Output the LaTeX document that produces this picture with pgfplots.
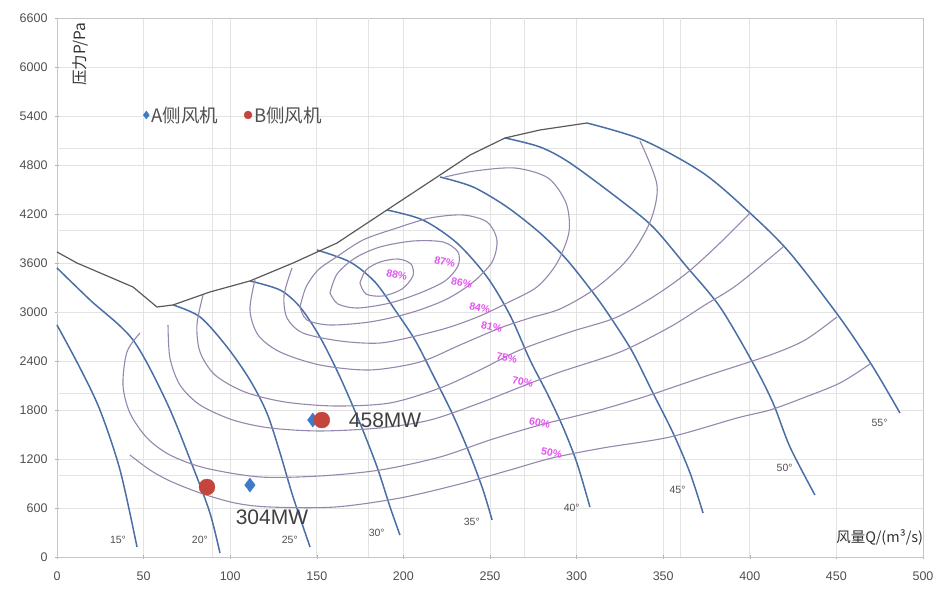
\documentclass[border=0pt]{standalone}
\usepackage{fontspec}
\setmainfont{Liberation Sans}
\newfontfamily\cjk{Noto Sans CJK SC}
\usepackage{pgfplots}
\pgfplotsset{compat=1.18}
\definecolor{blade}{HTML}{4A6FA5}
\definecolor{eff}{HTML}{9687AE}
\definecolor{surge}{HTML}{5A5A5A}
\definecolor{effl}{HTML}{E154EE}
\definecolor{ptA}{HTML}{3D7BC8}
\definecolor{ptB}{HTML}{C4453B}
\definecolor{gridc}{HTML}{E3E3E3}
\definecolor{tickc}{HTML}{505050}
\tikzset{bl/.style={font=\fontsize{10.5bp}{12bp}\selectfont, text=tickc},
  el/.style={font=\bfseries\fontsize{10.5bp}{12bp}\selectfont, text=effl, rotate=-12}}
\begin{document}
\begin{tikzpicture}
\begin{axis}[
  scale only axis, width=866bp, height=539bp,
  xmin=0, xmax=500, ymin=0, ymax=6600,
  xtick={0,50,...,500}, ytick={0,600,...,6600},
  grid=major, grid style={gridc, line width=0.8bp},
  extra x ticks={90,180,270,360,450}, extra y ticks={1000,2000,3000,4000,5000},
  extra x tick labels={}, extra y tick labels={},
  extra tick style={grid=major, major tick length=0pt, grid style={gridc, line width=0.8bp}},
  axis line style={gray!45},
  tick style={gray!60, line width=0.6bp},
  major tick length=4bp,
  xtick pos=bottom, ytick pos=left, tick align=center,
  ticklabel style={font=\fontsize{12.5bp}{14bp}\selectfont, text=tickc},
  xticklabel style={yshift=-9bp},
  yticklabel style={xshift=-4bp},
  clip=false,
  legend style={at={(0.096,0.82)}, anchor=west, draw=none, fill=none,
    legend columns=2, font=\cjk\fontsize{18.5bp}{20bp}\selectfont, text=tickc,
    /tikz/every even column/.append style={column sep=24bp}},
  /pgf/number format/1000 sep={},
  /pgf/number format/assume math mode=true,
]
% blade angle curves
\addplot[blade, line width=1.5bp, smooth, forget plot] coordinates {(0,2841) (13.3,2314) (24.8,1800) (36.4,1065) (46.2,122)};
\addplot[blade, line width=1.5bp, smooth, forget plot] coordinates {(0,3539) (19.1,3147) (43.9,2657) (63.5,1886) (78.5,1102) (88.3,539) (94.1,49)};
\addplot[blade, line width=1.5bp, smooth, forget plot] coordinates {(67.0,3086) (82.6,2939) (98.2,2571) (111.4,2167) (121.2,1763) (128.8,1273) (136.3,735) (146.1,122)};
\addplot[blade, line width=1.5bp, smooth, forget plot] coordinates {(111.4,3380) (128.8,3269) (140.3,3061) (151.8,2694) (163.4,2204) (174.9,1641) (184.8,1102) (192.3,612) (198.0,269)};
\addplot[blade, line width=1.5bp, smooth, forget plot] coordinates {(150.1,3759) (169.2,3612) (183.6,3367) (195.2,3024) (206.7,2657) (217.1,2229) (228.6,1739) (238.5,1249) (246.0,820) (251.2,453)};
\addplot[blade, line width=1.5bp, smooth, forget plot] coordinates {(190.5,4249) (211.3,4126) (230.9,3845) (248.3,3429) (261.5,2963) (273.1,2412) (282.9,2008) (292.1,1592) (300.2,1151) (307.7,612)};
\addplot[blade, line width=1.5bp, smooth, forget plot] coordinates {(221.1,4653) (240.2,4531) (259.8,4286) (278.9,3967) (294.5,3637) (311.8,3171) (323.3,2816) (332.6,2498) (344.1,2008) (355.7,1518) (365.5,1029) (373.0,539)};
\addplot[blade, line width=1.5bp, smooth, forget plot] coordinates {(258.7,5131) (278.9,5020) (296.2,4825) (325.1,4372) (344.1,4041) (363.7,3551) (382.8,3061) (401.8,2376) (413.4,1886) (423.2,1347) (437.6,759)};
\addplot[blade, line width=1.5bp, smooth, forget plot] coordinates {(306.0,5314) (338.3,5106) (373.0,4702) (400.1,4212) (423.2,3722) (452.1,2927) (471.1,2327) (486.7,1763)};
% surge line
\addplot[surge, line width=1.2bp, forget plot] coordinates {(0,3735) (11.5,3600) (27.7,3453) (43.9,3306) (57.7,3061) (67.0,3086) (88.3,3245) (111.4,3380) (136.3,3600) (161.7,3845) (190.5,4249) (222.9,4702) (238.5,4922) (258.7,5131) (278.9,5229) (306.0,5314)};
% efficiency contours
\addplot[eff, line width=1.1bp, smooth, forget plot] coordinates {(174.9,3355) (178.4,3514) (186.5,3612) (196.9,3649) (204.4,3588) (205.5,3441) (199.2,3282) (188.2,3196) (178.4,3220) (174.9,3355)};
\addplot[eff, line width=1.1bp, smooth, forget plot] coordinates {(157.6,3233) (161.7,3465) (172.1,3661) (186.5,3796) (205.5,3869) (222.9,3857) (231.5,3735) (231.5,3563) (224.0,3380) (209.6,3233) (192.3,3110) (173.8,3049) (162.2,3098) (157.6,3233)};
\addplot[eff, line width=1.1bp, smooth, forget plot] coordinates {(140.3,3061) (143.8,3306) (150.7,3514) (160.5,3661) (176.7,3882) (196.3,4029) (215.4,4151) (234.4,4188) (248.3,4102) (254.0,3882) (251.2,3612) (239.6,3355) (224.0,3147) (203.8,2988) (180.7,2878) (157.6,2841) (144.3,2902) (140.3,3061)};
\addplot[eff, line width=1.1bp, smooth, forget plot] coordinates {(135.7,3539) (131.1,3208) (132.8,2927) (142.0,2743) (163.4,2645) (186.5,2620) (209.6,2718) (226.9,2816) (244.2,2951) (259.8,3110) (277.1,3306) (288.7,3600) (295.6,3980) (293.9,4335) (283.5,4641) (264.4,4763) (241.3,4727) (224.0,4653)};
\addplot[eff, line width=1.1bp, smooth, forget plot] coordinates {(114.3,3392) (111.4,3024) (116.1,2718) (128.8,2510) (151.8,2351) (180.7,2290) (209.6,2388) (232.7,2596) (255.8,2804) (273.1,2927) (290.4,3037) (309.5,3269) (329.1,3637) (342.4,4102) (346.4,4555) (336.6,5094)};
\addplot[eff, line width=1.1bp, smooth, forget plot] coordinates {(84.3,3208) (80.8,2841) (82.6,2510) (91.2,2229) (108.5,2020) (131.6,1898) (160.5,1849) (192.3,1886) (221.1,2069) (244.2,2290) (267.3,2535) (296.2,2755) (322.2,2927) (344.1,3184) (363.7,3478) (382.8,3845) (400.1,4212)};
\addplot[eff, line width=1.1bp, smooth, forget plot] coordinates {(64.1,2841) (65.2,2437) (71.0,2106) (82.6,1861) (101.6,1677) (123.0,1580) (151.8,1543) (186.5,1580) (215.4,1677) (244.2,1886) (269.1,2094) (290.4,2265) (325.1,2510) (353.9,2816) (374.1,3086) (392.6,3331) (419.2,3796)};
\addplot[eff, line width=1.1bp, smooth, forget plot] coordinates {(47.9,2743) (40.4,2510) (38.1,2106) (42.1,1763) (52.0,1457) (65.2,1249) (85.5,1090) (117.2,980) (151.8,992) (186.5,1065) (221.1,1224) (250.0,1433) (278.9,1616) (313.5,1800) (342.4,1984) (373.0,2204) (411.7,2473) (431.9,2657) (450.3,2939)};
\addplot[eff, line width=1.1bp, smooth, forget plot] coordinates {(42.1,1249) (53.7,1065) (65.2,931) (82.6,784) (102.8,661) (123.0,612) (160.5,612) (198.0,722) (232.7,894) (261.5,1065) (285.8,1212) (315.2,1335) (353.9,1469) (392.6,1702) (411.7,1800) (430.7,1947) (452.1,2131) (469.4,2363)};
% operating points
\addplot[only marks, mark=diamond*, mark size=7bp, color=ptA,
  legend image code/.code={\draw[mark size=4bp] plot coordinates {(0.2cm,0cm)};}]
  coordinates {(111.4,881) (147.7,1677)};
\addlegendentry{A侧风机}
\addplot[only marks, mark=*, mark size=8bp, color=ptB,
  legend image code/.code={\draw[mark size=4bp] plot coordinates {(0.2cm,0cm)};}]
  coordinates {(86.6,857) (152.9,1677)};
\addlegendentry{B侧风机}
% texts
\node[font=\fontsize{21bp}{23bp}\selectfont, text=black!75] at (axis cs:124.1,490) {304MW};
\node[font=\fontsize{21bp}{23bp}\selectfont, text=black!75, anchor=west] at (axis cs:166.5,1677) {458MW};
\node[bl] at (axis cs:35.2,208) {15°};
\node[bl] at (axis cs:82.5,208) {20°};
\node[bl] at (axis cs:134.4,208) {25°};
\node[bl] at (axis cs:184.6,294) {30°};
\node[bl] at (axis cs:239.5,428) {35°};
\node[bl] at (axis cs:297.2,600) {40°};
\node[bl] at (axis cs:358.3,820) {45°};
\node[bl] at (axis cs:420.1,1090) {50°};
\node[bl] at (axis cs:474.9,1640) {55°};
\node[el] at (axis cs:196.2,3452) {88\%};
\node[el] at (axis cs:223.9,3611) {87\%};
\node[el] at (axis cs:233.7,3354) {86\%};
\node[el] at (axis cs:244.1,3048) {84\%};
\node[el] at (axis cs:251.0,2815) {81\%};
\node[el] at (axis cs:259.7,2436) {75\%};
\node[el] at (axis cs:268.9,2142) {70\%};
\node[el] at (axis cs:278.7,1640) {60\%};
\node[el] at (axis cs:285.6,1273) {50\%};
\node[rotate=90, font=\cjk\fontsize{15.5bp}{17bp}\selectfont, text=black!80] at (rel axis cs:0.027,0.933) {压力P/Pa};
\node[font=\cjk\fontsize{14.5bp}{16bp}\selectfont, text=black!80] at (rel axis cs:0.95,0.037) {风量Q/(m³/s)};
\end{axis}
\pgfresetboundingbox
\path ([shift={(-57bp,-43bp)}]current axis.south west) rectangle ([shift={(23bp,18bp)}]current axis.north east);
\end{tikzpicture}
\end{document}
